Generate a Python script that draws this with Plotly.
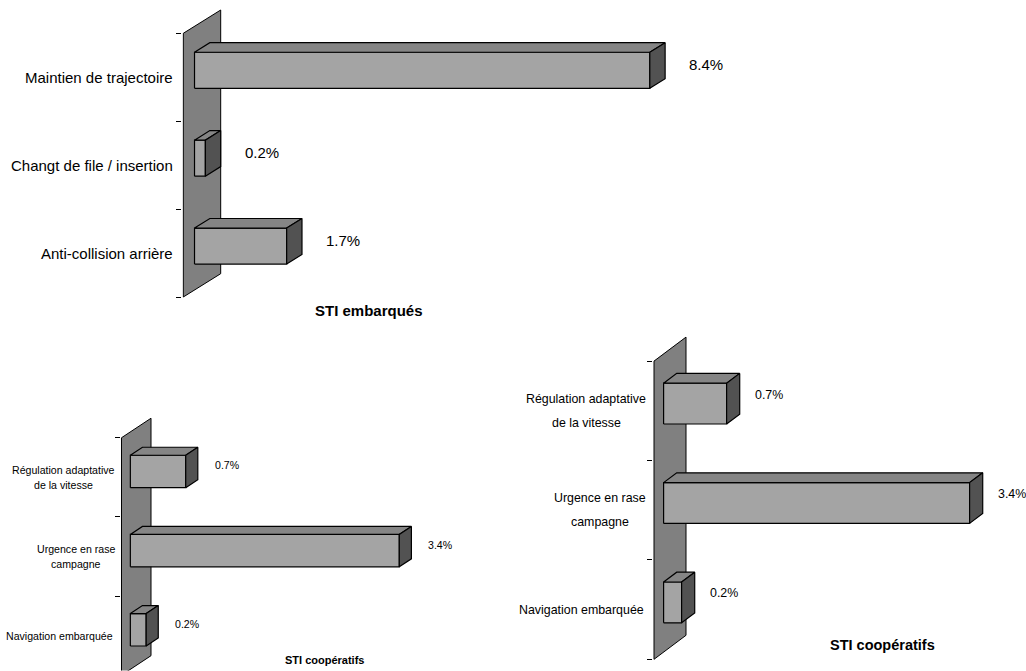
import plotly.graph_objects as go

W, H = 1026, 671

# Category labels (top to bottom) and their shares in %
emb_labels = ["Maintien de trajectoire", "Changt de file / insertion", "Anti-collision arrière"]
emb_values = [8.4, 0.2, 1.7]

coop_labels = ["Régulation adaptative<br>de la vitesse", "Urgence en rase<br>campagne", "Navigation embarquée"]
coop_values = [0.7, 3.4, 0.2]

emb_title = "STI embarqués"
coop_title = "STI coopératifs"

# Face shading of the pseudo-3D bars and the back wall
FRONT = "#a4a4a4"
TOP = "#858585"
SIDE = "#525252"
WALL = "#808080"
EDGE = "black"

# Depth placement of the bars inside the wall depth, and bar half thickness
Z0, Z1 = 0.30, 0.71
ZM = (Z0 + Z1) / 2
HALF = 0.205

FONT = "Liberation Sans, Arial, sans-serif"

# Advance widths (em) of Liberation Sans glyphs, used to centre wrapped label lines
GLYPH_W = {" ": 0.278, "R": 0.722, "U": 0.722, "N": 0.722, "l": 0.222, "i": 0.222,
           "t": 0.278, "r": 0.333, "v": 0.5, "c": 0.5, "s": 0.5, "m": 0.833}


def text_width(s, size):
    return sum(GLYPH_W.get(ch, 0.556) for ch in s) * size


panels = [
    dict(labels=emb_labels, values=emb_values, title=emb_title,
         left=183.3, bottom=297.0, sx=54.2, sy=87.9, dxp=37.4, dyp=23.3,
         right=720, ymin=-0.02, ymax=3.3, shift=30, vdy=1, gap=8, lgap=18,
         lab=15, val=15, ttl=15, title_at=(313, 310.5)),
    dict(labels=coop_labels, values=coop_values, title=coop_title,
         left=121.5, bottom=675.2, sx=79.1, sy=79.15, dxp=29.5, dyp=19.5,
         right=440, ymin=0.06, ymax=3.28, shift=21, vdy=2, gap=6.5, lgap=15,
         lab=10.6, val=10.6, ttl=11, title_at=(283, 660)),
    dict(labels=coop_labels, values=coop_values, title=coop_title,
         left=654.0, bottom=659.3, sx=90.0, sy=99.4, dxp=32.0, dyp=24.0,
         right=1010, ymin=-0.02, ymax=3.27, shift=20, vdy=4, gap=8, lgap=24.5,
         lab=12.4, val=12.4, ttl=14.5, title_at=(828, 645)),
]

fig = go.Figure()
annotations = []
layout_axes = {}

for k, p in enumerate(panels, start=1):
    xa = "x" if k == 1 else f"x{k}"
    ya = "y" if k == 1 else f"y{k}"
    DX = p["dxp"] / p["sx"]      # wall depth along the value axis
    DY = p["dyp"] / p["sy"]      # wall depth along the category axis
    n = len(p["labels"])
    labels = list(reversed(p["labels"]))
    values = list(reversed(p["values"]))

    def proj(v, c, z, DX=DX, DY=DY):
        return v + z * DX, c + z * DY

    def poly(points):
        xs, ys = [], []
        for v, c, z in points:
            x, y = proj(v, c, z)
            xs.append(x)
            ys.append(y)
        xs.append(xs[0])
        ys.append(ys[0])
        return xs, ys

    # back wall at value 0
    wx, wy = poly([(0, 0, 0), (0, n, 0), (0, n, 1), (0, 0, 1)])
    fig.add_trace(go.Scatter(x=wx, y=wy, mode="lines", fill="toself", fillcolor=WALL,
                             line=dict(color=EDGE, width=1), hoverinfo="skip",
                             showlegend=False, xaxis=xa, yaxis=ya))

    faces = {"front": ([], []), "top": ([], []), "side": ([], [])}
    for i, (v, lab) in enumerate(zip(values, labels)):
        lo, hi = i + 0.5 - HALF, i + 0.5 + HALF
        shapes = {
            "front": [(0, lo, Z0), (v, lo, Z0), (v, hi, Z0), (0, hi, Z0)],
            "top": [(0, hi, Z0), (v, hi, Z0), (v, hi, Z1), (0, hi, Z1)],
            "side": [(v, lo, Z0), (v, hi, Z0), (v, hi, Z1), (v, lo, Z1)],
        }
        for key, pts in shapes.items():
            xs, ys = poly(pts)
            faces[key][0].extend(xs + [None])
            faces[key][1].extend(ys + [None])

        # value label beyond the bar end
        ax_, ay_ = proj(v, i + 0.5, ZM)
        annotations.append(dict(x=ax_, y=ay_, xref=xa, yref=ya, text=f"{v:.1f}%",
                                showarrow=False, xanchor="left", yanchor="middle",
                                xshift=p["shift"], yshift=p["vdy"],
                                font=dict(family=FONT, size=p["val"], color="black")))

        # category label left of the wall; wrapped lines are centred on each other
        lines = lab.split("<br>")
        m = len(lines)
        lab_font = dict(family=FONT, size=p["lab"], color="black")
        if m == 1:
            annotations.append(dict(x=0, y=i + 0.5, xref=xa, yref=ya, text=lab,
                                    showarrow=False, xanchor="right", yanchor="middle",
                                    xshift=-p["gap"], font=lab_font))
        else:
            block_w = max(text_width(s, p["lab"]) for s in lines)
            for j, s in enumerate(lines):
                annotations.append(dict(x=0, y=i + 0.5, xref=xa, yref=ya, text=s,
                                        showarrow=False, xanchor="center", yanchor="middle",
                                        xshift=-p["gap"] - block_w / 2,
                                        yshift=((m - 1) / 2 - j) * p["lgap"],
                                        font=lab_font))

    for key, color in (("front", FRONT), ("top", TOP), ("side", SIDE)):
        fx, fy = faces[key]
        fig.add_trace(go.Scatter(x=fx, y=fy, mode="lines", fill="toself", fillcolor=color,
                                 line=dict(color=EDGE, width=1.2), hoverinfo="skip",
                                 showlegend=False, xaxis=xa, yaxis=ya))

    xmin = -1.0 / p["sx"]
    xmax = (p["right"] - p["left"]) / p["sx"]
    dom_x = [(p["left"] + xmin * p["sx"]) / W, p["right"] / W]
    top_px = p["bottom"] - p["ymax"] * p["sy"]
    bot_px = p["bottom"] - p["ymin"] * p["sy"]
    dom_y = [max(0.0, 1 - bot_px / H), min(1.0, 1 - top_px / H)]

    xkey = "xaxis" if k == 1 else f"xaxis{k}"
    ykey = "yaxis" if k == 1 else f"yaxis{k}"
    layout_axes[xkey] = dict(domain=dom_x, range=[xmin, xmax], visible=False,
                             anchor=ya, fixedrange=True, automargin=False)
    layout_axes[ykey] = dict(
        domain=dom_y, range=[p["ymin"], p["ymax"]], anchor=xa, automargin=False,
        showgrid=False, zeroline=False, showline=False, fixedrange=True,
        showticklabels=False, tickmode="array", tickvals=[i + 0.5 for i in range(n)],
        ticks="outside", ticklen=1, tickcolor="rgba(0,0,0,0)",
        minor=dict(tickmode="array", tickvals=list(range(n + 1)), ticks="outside",
                   ticklen=5, tickcolor="black", tickwidth=1, showgrid=False),
    )

    tx, ty = p["title_at"]
    annotations.append(dict(x=tx / W, y=1 - ty / H, xref="paper", yref="paper",
                            text=f"<b>{p['title']}</b>", showarrow=False,
                            xanchor="left", yanchor="middle",
                            font=dict(family=FONT, size=p["ttl"], color="black")))

fig.update_layout(
    width=W, height=H,
    margin=dict(l=0, r=0, t=0, b=0, autoexpand=False),
    paper_bgcolor="white", plot_bgcolor="rgba(0,0,0,0)",
    showlegend=False,
    annotations=annotations,
    **layout_axes,
)

fig.write_html("out.html", config={"displayModeBar": False})
